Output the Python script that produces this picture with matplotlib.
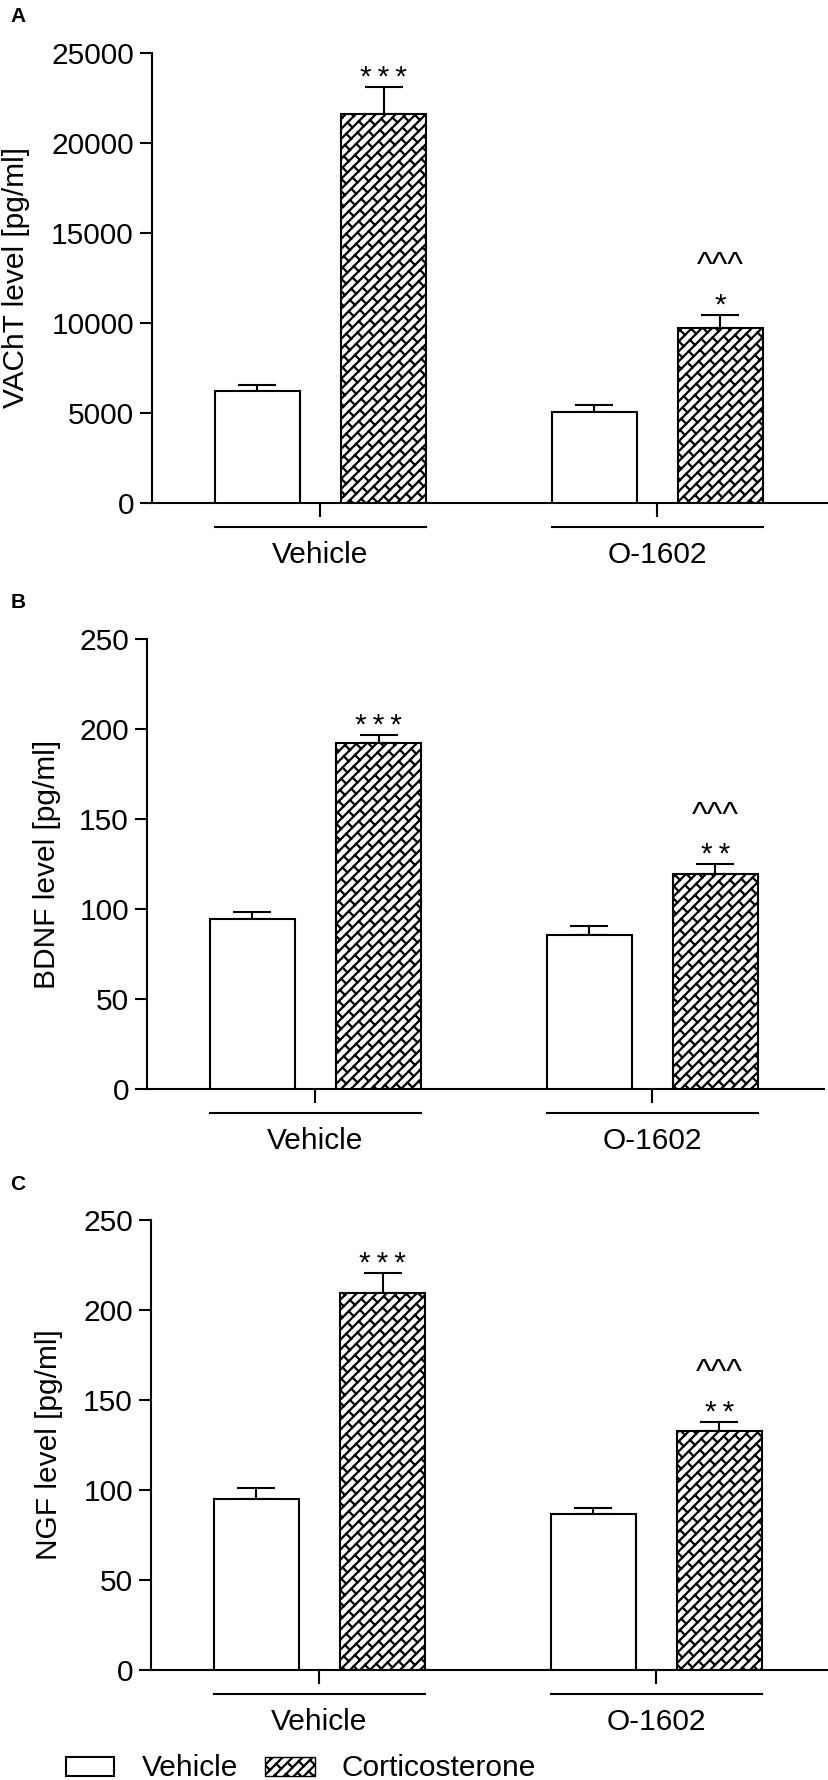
import numpy as np
import matplotlib
matplotlib.use("Agg")
import matplotlib.pyplot as plt
import matplotlib.hatch as mhatch
from matplotlib.path import Path
from matplotlib.patches import Rectangle
from matplotlib.transforms import blended_transform_factory

plt.rcParams['font.family'] = ['Liberation Sans', 'DejaVu Sans']
plt.rcParams['hatch.linewidth'] = 1.6


# brick-like diagonal hatch (used for '\\'), closer to the original figure
class BrickHatch(mhatch.HatchPatternBase):
    def __init__(self, hatch, density):
        self.num_vertices = 0
        if hatch.count('\\') == 0:
            return
        N = 10          # diagonal lines per unit
        P = 1.0 / 4     # brick length, measured in x + y
        segs = []
        for k in range(-N - 2, N + 2):
            c0, c1 = k / N, (k + 1) / N
            segs.append(((-0.2, -0.2 + c0), (1.2, 1.2 + c0)))
            start = (k % 2) * P / 2
            for m in range(-12, 16):
                p = start + m * P
                segs.append((((p - c0) / 2, (p + c0) / 2),
                             ((p - c1) / 2, (p + c1) / 2)))
        self.verts = np.array(segs).reshape(-1, 2)
        self.num_vertices = len(self.verts)

    def set_vertices_and_codes(self, vertices, codes):
        vertices[:] = self.verts
        codes[0::2] = Path.MOVETO
        codes[1::2] = Path.LINETO


mhatch._hatch_types = [BrickHatch if t is mhatch.SouthEastHatch else t
                       for t in mhatch._hatch_types]

# data
groups = ['Vehicle', 'O-1602']
series = ['Vehicle', 'Corticosterone']

vacht_veh = [6200, 5050]
vacht_veh_err = [330, 400]
vacht_cort = [21600, 9700]
vacht_cort_err = [1500, 750]

bdnf_veh = [94.5, 85.6]
bdnf_veh_err = [3.9, 5.0]
bdnf_cort = [192.0, 119.4]
bdnf_cort_err = [4.5, 5.5]

ngf_veh = [95.0, 86.7]
ngf_veh_err = [6.0, 3.3]
ngf_cort = [209.4, 132.8]
ngf_cort_err = [11.0, 5.0]

stars_cort = [['***', '*'], ['***', '**'], ['***', '**']]
carets_cort = [['', '^^^'], ['', '^^^'], ['', '^^^']]

panels = [
    ('A', 'VAChT level [pg/ml]', vacht_veh, vacht_veh_err, vacht_cort, vacht_cort_err,
     25000, 5000, 152, 503, 16),
    ('B', 'BDNF level [pg/ml]', bdnf_veh, bdnf_veh_err, bdnf_cort, bdnf_cort_err,
     250, 50, 147, 1089, 47),
    ('C', 'NGF level [pg/ml]', ngf_veh, ngf_veh_err, ngf_cort, ngf_cort_err,
     250, 50, 151, 1670, 49),
]

W, H = 829, 1780
fig = plt.figure(figsize=(W / 100, H / 100), dpi=100)

FS = 21.5
LW = 1.5
off = 0.187
bw = 0.252
x = np.arange(len(groups))

for i, (letter, ylab, veh, veh_err, cort, cort_err, ymax, ystep, left, zero_y, ylab_x) in enumerate(panels):
    ax = fig.add_axes([left / W, (H - zero_y) / H, 677 / W, 450 / H])
    ax.bar(x - off, veh, bw, color='white', edgecolor='black', linewidth=LW, zorder=3)
    ax.bar(x + off, cort, bw, color='white', edgecolor='black', linewidth=LW,
           hatch='\\', zorder=3)
    ax.errorbar(x - off, veh, yerr=[np.zeros(2), veh_err], fmt='none', ecolor='black',
                elinewidth=LW, capsize=14, capthick=LW, zorder=2)
    ax.errorbar(x + off, cort, yerr=[np.zeros(2), cort_err], fmt='none', ecolor='black',
                elinewidth=LW, capsize=14, capthick=LW, zorder=2)

    for j in range(len(groups)):
        top = cort[j] + cort_err[j]
        ax.annotate('\u2009'.join(stars_cort[i][j]), (x[j] + off, top), xytext=(0, 9),
                    textcoords='offset pixels', ha='center', va='center', fontsize=FS)
        if carets_cort[i][j]:
            ax.annotate(carets_cort[i][j], (x[j] + off, top), xytext=(0, 48),
                        textcoords='offset pixels', ha='center', va='center', fontsize=24)

    ax.set_xlim(-0.5, 1.509)
    ax.set_ylim(0, ymax)
    ax.set_yticks(np.arange(0, ymax + 1, ystep))
    ax.set_xticks(x)
    ax.set_xticklabels([])
    for s in ['top', 'right']:
        ax.spines[s].set_visible(False)
    for s in ['left', 'bottom']:
        ax.spines[s].set_linewidth(LW)
    ax.tick_params(axis='y', length=9, width=LW, labelsize=FS, pad=4)
    ax.tick_params(axis='x', length=10, width=LW)

    # group brackets and labels under the axis
    tr = blended_transform_factory(ax.transData, ax.transAxes)
    for j, g in enumerate(groups):
        ax.plot([x[j] - off - bw / 2, x[j] + off + bw / 2], [-24 / 450, -24 / 450],
                color='black', lw=LW, transform=tr, clip_on=False)
        ax.text(x[j], -52 / 450, g, transform=tr, ha='center', va='center', fontsize=FS)

    fig.text(ylab_x / W, 1 - (zero_y - 225) / H, ylab, rotation=90, ha='center',
             va='center', fontsize=FS)
    fig.text(18 / W, 1 - (zero_y - 486) / H, letter, ha='center', va='center',
             fontsize=15, fontweight='bold')

# legend along the bottom edge
fig.patches.append(Rectangle((66 / W, 4 / H), 48 / W, 19 / H, transform=fig.transFigure,
                             facecolor='white', edgecolor='black', linewidth=LW))
fig.text(142 / W, 4 / H, series[0], ha='left', va='baseline', fontsize=FS)
fig.patches.append(Rectangle((265 / W, 4 / H), 50 / W, 19 / H, transform=fig.transFigure,
                             facecolor='white', edgecolor='black', linewidth=1.0,
                             hatch='\\'))
fig.text(342 / W, 4 / H, series[1], ha='left', va='baseline', fontsize=FS)

fig.savefig('out.png', dpi=100)
